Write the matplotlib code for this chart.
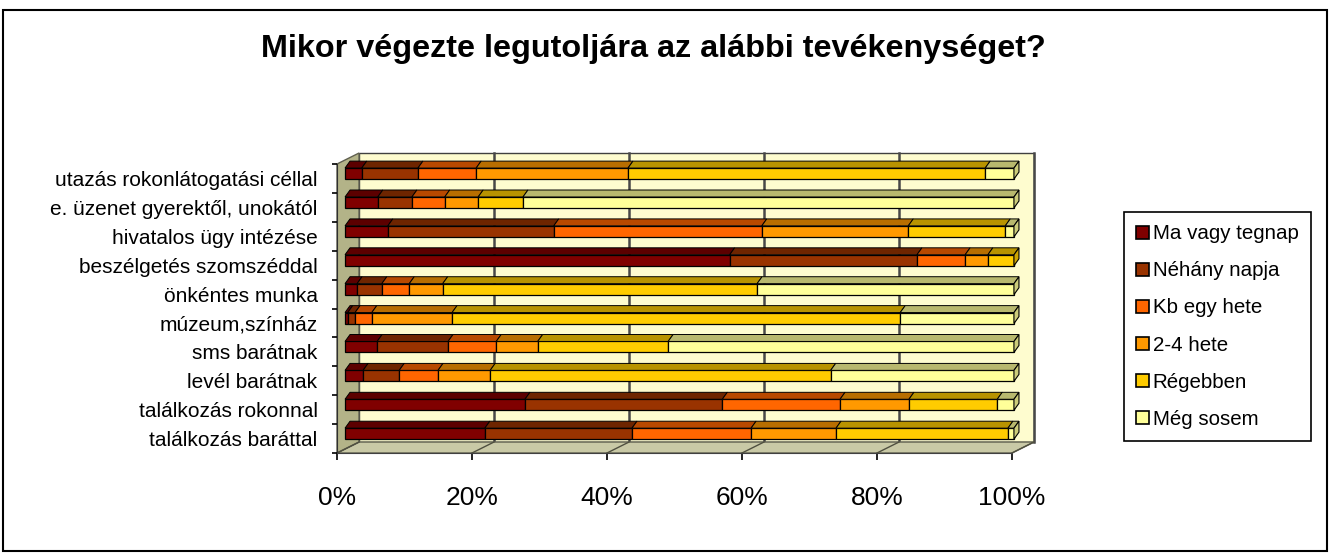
import matplotlib.pyplot as plt
import numpy as np
from matplotlib.patches import Polygon, Rectangle
from matplotlib.colors import to_rgb

plt.rcParams["font.family"] = ["Liberation Sans", "DejaVu Sans"]

# categories, bottom to top
categories = [
    "találkozás baráttal",
    "találkozás rokonnal",
    "levél barátnak",
    "sms barátnak",
    "múzeum,színház",
    "önkéntes munka",
    "beszélgetés szomszéddal",
    "hivatalos ügy intézése",
    "e. üzenet gyerektől, unokától",
    "utazás rokonlátogatási céllal",
]
series_names = ["Ma vagy tegnap", "Néhány napja", "Kb egy hete",
                "2-4 hete", "Régebben", "Még sosem"]
series_colors = ["#800000", "#993300", "#ff6600", "#ff9900", "#ffcc00", "#ffff99"]

# percentages per category (same order as categories)
ma_vagy_tegnap = [20.9, 26.9, 2.7, 4.8, 0.4, 1.8, 57.5, 6.4, 4.9, 2.5]
nehany_napja = [22.0, 29.5, 5.4, 10.6, 1.1, 3.7, 28.0, 24.8, 5.1, 8.4]
kb_egy_hete = [17.8, 17.6, 5.8, 7.2, 2.5, 4.1, 7.2, 31.1, 4.9, 8.7]
ket_negy_hete = [12.7, 10.3, 7.8, 6.2, 12.0, 5.0, 3.4, 21.9, 5.0, 22.7]
regebben = [25.7, 13.2, 50.9, 19.5, 67.0, 47.0, 3.9, 14.5, 6.7, 53.4]
meg_sosem = [0.9, 2.5, 27.4, 51.7, 17.0, 38.4, 0.0, 1.3, 73.4, 4.3]

xticks = [0, 20, 40, 60, 80, 100]
xtick_labels = ["0%", "20%", "40%", "60%", "80%", "100%"]

# 3d look (data units)
DX, DY = 3.26, 0.38        # depth of the box
BX, BY = 1.19, 0.17        # front face of the bars inside the box
BAR_H = 0.38               # bar front height
DDX, DDY = 0.74, 0.24      # bar depth
BAR_SCALE = 0.991


def darker(c, f=0.72):
    r, g, b = to_rgb(c)
    return (r * f, g * f, b * f)


fig = plt.figure(figsize=(13.31, 5.54), dpi=100)
ax = fig.add_axes([337 / 1331, (554 - 453) / 554, 675 / 1331, 289 / 554])
ax.set_xlim(0, 100)
ax.set_ylim(-0.5, 9.5)
ax.set_facecolor("none")

# walls and floor
y0, y1 = -0.5, 9.5
ax.add_patch(Rectangle((DX, y0 + DY), 100, 10, facecolor="#fefccf",
                       edgecolor="#404040", linewidth=1.0, zorder=0, clip_on=False))
for xt in xticks[1:]:
    ax.plot([xt + DX, xt + DX], [y0 + DY, y1 + DY], color="#484848",
            linewidth=1.8, zorder=0.5, clip_on=False)
ax.add_patch(Polygon([(0, y0), (100, y0), (100 + DX, y0 + DY), (DX, y0 + DY)],
                     closed=True, facecolor="#c9c9a6", edgecolor="#606050",
                     linewidth=1.0, zorder=1, clip_on=False))
for xt in xticks:
    ax.plot([xt, xt + DX], [y0, y0 + DY], color="#505040", linewidth=1.0,
            zorder=1.1, clip_on=False)
ax.add_patch(Polygon([(0, y0), (DX, y0 + DY), (DX, y1 + DY), (0, y1)],
                     closed=True, facecolor="#b3b388", edgecolor="#606050",
                     linewidth=1.0, zorder=1, clip_on=False))

# stacked bars
data = np.array([ma_vagy_tegnap, nehany_napja, kb_egy_hete,
                 ket_negy_hete, regebben, meg_sosem])
ypos = np.arange(len(categories))
left = np.zeros(len(categories))
for i, (name, col) in enumerate(zip(series_names, series_colors)):
    vals = data[i]
    xl = BX + left * BAR_SCALE
    w = vals * BAR_SCALE
    ax.barh(ypos + BY, w, left=xl, height=BAR_H, color=col,
            edgecolor="black", linewidth=0.9, zorder=3, label=name, clip_on=False)
    for k in range(len(categories)):
        if vals[k] <= 0:
            continue
        a, b = xl[k], xl[k] + w[k]
        yt = ypos[k] + BY + BAR_H / 2
        ax.add_patch(Polygon([(a, yt), (b, yt), (b + DDX, yt + DDY), (a + DDX, yt + DDY)],
                             closed=True, facecolor=darker(col), edgecolor="black",
                             linewidth=0.7, zorder=3, clip_on=False))
    left = left + vals

# right end caps
for k in range(len(categories)):
    last = max(i for i in range(len(series_names)) if data[i][k] > 0)
    xe = BX + left[k] * BAR_SCALE
    yb = ypos[k] + BY - BAR_H / 2
    yt = ypos[k] + BY + BAR_H / 2
    ax.add_patch(Polygon([(xe, yb), (xe, yt), (xe + DDX, yt + DDY), (xe + DDX, yb + DDY)],
                         closed=True, facecolor=darker(series_colors[last], 0.8),
                         edgecolor="black", linewidth=0.8, zorder=3, clip_on=False))

# axes, ticks
for s in ["top", "right"]:
    ax.spines[s].set_visible(False)
ax.spines["left"].set_color("#303030")
ax.spines["bottom"].set_color("#404040")
ax.spines["left"].set_zorder(2)
ax.spines["bottom"].set_zorder(2)
ax.set_xticks(xticks)
ax.set_xticklabels(xtick_labels, fontsize=19)
ax.tick_params(axis="x", length=5, width=1.2, pad=19)
ax.set_yticks(ypos)
ax.set_yticklabels(categories, fontsize=15)
ax.tick_params(axis="y", which="major", length=0, pad=14)
ax.set_yticks(np.arange(-0.5, 10, 1), minor=True)
ax.tick_params(axis="y", which="minor", length=3.5, width=1.2)

# title
fig.text(0.4906, 0.912, "Mikor végezte legutoljára az alábbi tevékenységet?",
         fontsize=23.3, fontweight="bold", ha="center", va="center")

# legend
leg = fig.legend(loc="center", bbox_to_anchor=(1116 / 1331, 114 / 554, 203 / 1331, 227 / 554),
                 fontsize=14.8, frameon=True, fancybox=False, edgecolor="black",
                 framealpha=1, handlelength=0.6, handleheight=0.6, handletextpad=0.2,
                 labelspacing=0.88, borderpad=0.6, borderaxespad=0)
leg.get_frame().set_linewidth(1.2)
for h in leg.legend_handles:
    h.set_edgecolor("black")
    h.set_linewidth(1.2)

# outer frame
fig.add_artist(Rectangle((3 / 1331, 3 / 554), 1324 / 1331, 541 / 554,
                         transform=fig.transFigure, fill=False,
                         edgecolor="black", linewidth=1.5))

fig.savefig("out.png", dpi=100)
